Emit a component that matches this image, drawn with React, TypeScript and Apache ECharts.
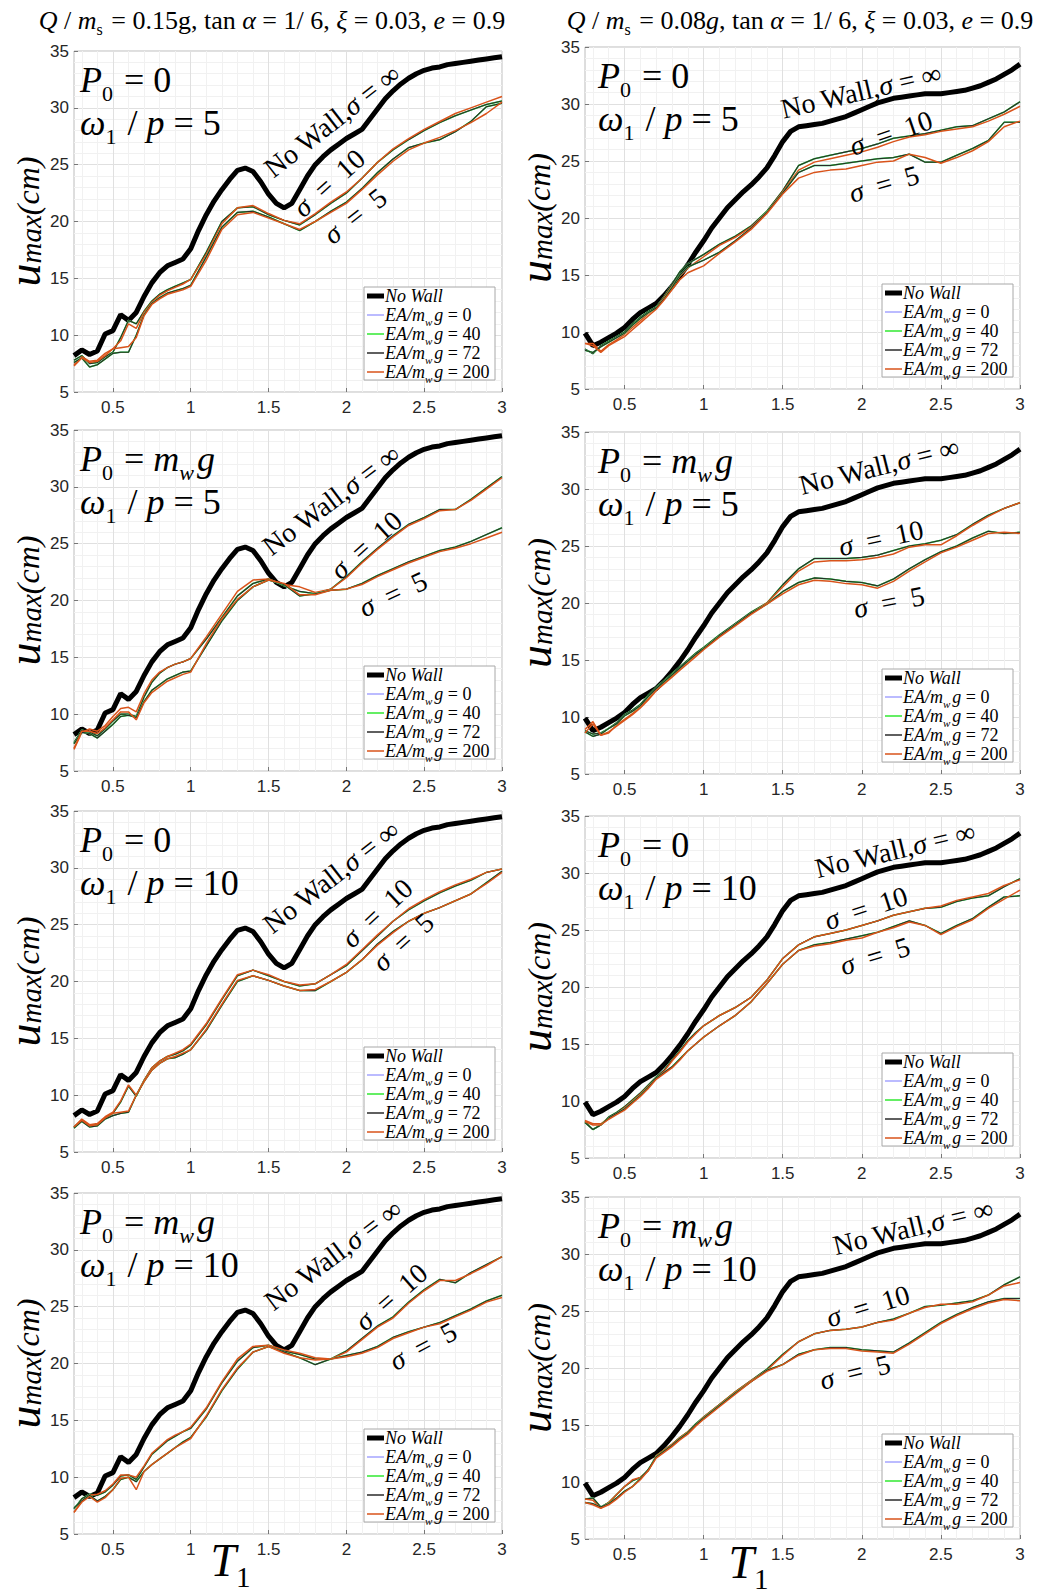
import React, { useEffect, useRef } from 'react';
import * as echarts from 'echarts';

// ---------- data ----------
const T_FINE = [0.25, 0.3, 0.35, 0.4, 0.45, 0.5, 0.55, 0.6, 0.65, 0.7, 0.75, 0.8, 0.85, 0.9, 0.95, 1.0, 1.05, 1.1, 1.15, 1.2, 1.25, 1.3, 1.35, 1.4, 1.45, 1.5, 1.55, 1.6, 1.65, 1.7, 1.75, 1.8, 1.85, 1.9, 1.95, 2.0, 2.05, 2.1, 2.15, 2.2, 2.25, 2.3, 2.35, 2.4, 2.45, 2.5, 2.55, 2.6, 2.65, 2.7, 2.75, 2.8, 2.85, 2.9, 2.95, 3.0];
const T_THIN = [0.25, 0.3, 0.35, 0.4, 0.45, 0.5, 0.55, 0.6, 0.65, 0.7, 0.75, 0.8, 0.85, 0.9, 0.95, 1.0, 1.1, 1.2, 1.3, 1.4, 1.5, 1.6, 1.7, 1.8, 1.9, 2.0, 2.1, 2.2, 2.3, 2.4, 2.5, 2.6, 2.7, 2.8, 2.9, 3.0];

const NOWALL_LEFT = [8.2, 8.7, 8.3, 8.6, 10.1, 10.4, 11.8, 11.3, 12.0, 13.4, 14.6, 15.5, 16.1, 16.4, 16.7, 17.6, 19.2, 20.6, 21.8, 22.8, 23.7, 24.5, 24.7, 24.4, 23.5, 22.4, 21.6, 21.2, 21.6, 22.8, 24.0, 25.0, 25.7, 26.3, 26.8, 27.3, 27.7, 28.1, 29.0, 29.9, 30.8, 31.5, 32.1, 32.6, 33.0, 33.3, 33.5, 33.6, 33.8, 33.9, 34.0, 34.1, 34.2, 34.3, 34.4, 34.5];
const NOWALL_RIGHT = [9.9, 8.8, 9.1, 9.5, 9.9, 10.4, 11.1, 11.7, 12.1, 12.5, 13.2, 14.0, 14.9, 15.9, 17.0, 18.0, 19.1, 20.0, 20.9, 21.6, 22.3, 22.9, 23.6, 24.4, 25.5, 26.7, 27.6, 28.0, 28.1, 28.2, 28.3, 28.5, 28.7, 28.9, 29.2, 29.5, 29.8, 30.1, 30.3, 30.5, 30.6, 30.7, 30.8, 30.9, 30.9, 30.9, 31.0, 31.1, 31.2, 31.4, 31.6, 31.9, 32.2, 32.6, 33.0, 33.5];

// Left column (Q/ms = 0.15g)
const L1_S10 = [7.8, 8.2, 7.5, 7.6, 8.1, 8.5, 9.8, 11.3, 11.0, 12.1, 13.0, 13.6, 14.0, 14.3, 14.6, 14.9, 17.3, 20.0, 21.2, 21.3, 20.6, 20.1, 19.7, 20.6, 21.6, 22.5, 23.8, 25.2, 26.3, 27.2, 28.0, 28.7, 29.3, 29.8, 30.3, 30.6];
const L1_S10_200 = [7.4, 8.1, 7.7, 7.8, 8.4, 8.8, 9.5, 11.0, 10.6, 12.0, 12.9, 13.5, 13.9, 14.2, 14.5, 14.9, 17.1, 19.8, 21.2, 21.4, 20.7, 20.1, 19.8, 20.7, 21.7, 22.6, 23.8, 25.2, 26.4, 27.3, 28.1, 28.8, 29.5, 30.0, 30.5, 31.0];
const L1_S5 = [7.6, 8.0, 7.2, 7.4, 7.9, 8.4, 8.5, 8.5, 10.0, 11.8, 12.8, 13.3, 13.7, 13.9, 14.1, 14.4, 16.9, 19.5, 20.8, 20.9, 20.4, 19.8, 19.2, 20.0, 20.9, 21.7, 22.9, 24.3, 25.5, 26.5, 26.9, 27.2, 27.9, 28.8, 30.1, 30.4];
const L1_S5_200 = [7.3, 8.0, 7.6, 7.7, 8.2, 8.8, 8.9, 9.0, 9.8, 11.7, 12.7, 13.2, 13.6, 13.8, 14.0, 14.3, 16.6, 19.3, 20.6, 20.8, 20.3, 19.8, 19.3, 20.0, 20.8, 21.6, 22.8, 24.1, 25.3, 26.3, 26.9, 27.4, 28.0, 28.7, 29.5, 30.5];

const L2_S10 = [7.5, 8.6, 8.4, 8.1, 8.7, 9.4, 10.0, 10.0, 9.8, 11.5, 12.8, 13.6, 14.1, 14.4, 14.6, 14.9, 16.6, 18.5, 20.4, 21.5, 21.9, 21.3, 20.8, 20.6, 21.0, 22.1, 23.4, 24.6, 25.7, 26.7, 27.3, 28.0, 28.0, 28.9, 29.9, 30.9];
const L2_S10_200 = [6.9, 8.4, 8.7, 8.5, 9.0, 9.8, 10.5, 10.6, 10.2, 11.8, 13.0, 13.7, 14.1, 14.4, 14.6, 14.9, 16.8, 18.8, 20.8, 21.8, 21.9, 21.4, 21.2, 20.7, 21.0, 22.0, 23.3, 24.5, 25.6, 26.6, 27.2, 27.9, 28.0, 28.8, 29.8, 30.8];
const L2_S5 = [7.4, 8.4, 8.3, 7.9, 8.5, 9.1, 9.8, 9.9, 9.7, 11.1, 12.1, 12.6, 13.1, 13.4, 13.7, 13.8, 16.0, 18.2, 20.0, 21.2, 21.8, 21.4, 20.4, 20.6, 20.9, 21.0, 21.5, 22.2, 22.8, 23.4, 23.9, 24.4, 24.7, 25.2, 25.8, 26.4];
const L2_S5_200 = [7.0, 8.5, 8.5, 8.3, 8.8, 9.5, 10.2, 10.2, 9.5, 11.0, 11.9, 12.4, 12.9, 13.2, 13.5, 13.7, 16.2, 18.4, 20.1, 21.2, 21.8, 21.5, 20.5, 20.5, 20.9, 21.0, 21.4, 22.1, 22.7, 23.3, 23.8, 24.3, 24.6, 25.0, 25.5, 26.0];

const L3_S10 = [7.2, 7.8, 7.3, 7.4, 8.0, 8.4, 9.4, 10.8, 9.9, 11.3, 12.4, 13.0, 13.4, 13.6, 13.9, 14.4, 16.2, 18.4, 20.5, 21.0, 20.5, 20.0, 19.6, 19.8, 20.6, 21.4, 22.7, 24.0, 25.3, 26.3, 27.1, 27.8, 28.4, 28.9, 29.6, 29.9];
const L3_S10_200 = [7.2, 7.9, 7.4, 7.5, 8.1, 8.5, 9.5, 10.9, 10.0, 11.3, 12.4, 13.0, 13.4, 13.7, 14.0, 14.5, 16.3, 18.5, 20.6, 21.0, 20.6, 20.0, 19.7, 19.8, 20.6, 21.5, 22.8, 24.1, 25.3, 26.4, 27.2, 27.9, 28.5, 29.0, 29.6, 29.9];
const L3_S5 = [7.1, 7.7, 7.2, 7.3, 7.9, 8.2, 8.4, 8.5, 10.0, 11.2, 12.2, 12.8, 13.2, 13.3, 13.6, 14.0, 15.7, 17.9, 20.0, 20.5, 20.1, 19.6, 19.2, 19.2, 20.0, 20.8, 21.9, 23.3, 24.4, 25.3, 26.0, 26.5, 27.1, 27.7, 28.7, 29.7];
const L3_S5_200 = [7.2, 7.8, 7.3, 7.4, 8.0, 8.4, 8.5, 8.6, 10.0, 11.2, 12.2, 12.8, 13.2, 13.4, 13.7, 14.0, 15.8, 18.0, 20.1, 20.5, 20.1, 19.6, 19.2, 19.3, 20.0, 20.8, 21.9, 23.2, 24.3, 25.3, 26.0, 26.5, 27.1, 27.7, 28.6, 29.6];

const L4_S10 = [7.2, 8.1, 8.5, 8.4, 8.7, 9.3, 10.1, 10.2, 9.8, 10.9, 12.0, 12.6, 13.2, 13.6, 14.0, 14.3, 16.0, 18.3, 20.2, 21.4, 21.6, 21.1, 20.8, 20.4, 20.4, 21.1, 22.2, 23.3, 24.1, 25.4, 26.5, 27.4, 27.1, 28.0, 28.7, 29.4];
const L4_S10_200 = [6.9, 7.9, 8.4, 8.5, 8.8, 9.4, 10.2, 10.2, 10.0, 11.0, 12.1, 12.7, 13.3, 13.7, 14.0, 14.4, 16.1, 18.4, 20.4, 21.5, 21.6, 21.2, 20.9, 20.5, 20.4, 21.0, 22.1, 23.2, 24.0, 25.3, 26.4, 27.3, 27.3, 27.9, 28.6, 29.4];
const L4_S5 = [7.3, 7.9, 8.4, 7.9, 8.3, 8.9, 9.8, 10.0, 9.6, 10.5, 11.1, 11.6, 12.1, 12.6, 13.1, 13.5, 15.3, 17.6, 19.5, 21.0, 21.5, 21.0, 20.5, 19.9, 20.4, 20.7, 21.0, 21.5, 22.3, 22.8, 23.2, 23.6, 24.2, 24.8, 25.5, 26.0];
const L4_S5_200 = [6.9, 7.8, 8.3, 7.8, 8.2, 8.9, 9.9, 10.0, 8.9, 10.5, 11.1, 11.6, 12.1, 12.6, 13.0, 13.4, 15.4, 17.7, 19.6, 21.0, 21.5, 20.9, 20.5, 20.3, 20.4, 20.6, 20.9, 21.4, 22.2, 22.7, 23.2, 23.5, 24.1, 24.7, 25.4, 25.8];

// Right column (Q/ms = 0.08g)
const R1_S10 = [8.5, 8.1, 8.8, 9.2, 9.6, 10.0, 10.7, 11.3, 11.8, 12.2, 13.1, 14.2, 15.3, 16.0, 16.4, 16.8, 17.7, 18.4, 19.3, 20.6, 22.4, 24.6, 25.2, 25.5, 25.8, 26.1, 26.5, 27.0, 27.2, 27.4, 27.7, 28.0, 28.1, 28.7, 29.3, 30.2];
const R1_S10_200 = [9.0, 9.0, 8.3, 8.9, 9.3, 9.8, 10.4, 11.0, 11.6, 12.1, 13.0, 14.0, 14.9, 15.6, 16.1, 16.6, 17.6, 18.3, 19.2, 20.5, 22.3, 24.2, 24.9, 25.2, 25.5, 25.8, 26.2, 26.7, 27.1, 27.3, 27.6, 27.8, 28.0, 28.5, 29.1, 29.8];
const R1_S5 = [8.4, 8.2, 8.7, 9.1, 9.5, 9.9, 10.6, 11.2, 11.7, 12.1, 12.9, 13.9, 15.0, 15.7, 16.0, 16.3, 17.0, 18.0, 19.1, 20.5, 22.2, 24.0, 24.6, 24.6, 24.8, 25.0, 25.2, 25.3, 25.6, 24.9, 24.9, 25.5, 26.1, 26.8, 28.4, 28.4];
const R1_S5_200 = [9.0, 8.8, 8.2, 8.8, 9.2, 9.6, 10.2, 10.8, 11.4, 12.0, 12.8, 13.7, 14.6, 15.2, 15.5, 15.8, 16.9, 17.9, 19.0, 20.4, 22.1, 23.5, 24.0, 24.2, 24.3, 24.6, 24.9, 25.0, 25.6, 25.3, 24.8, 25.3, 25.9, 26.7, 28.0, 28.5];

const R2_S10 = [8.8, 8.5, 8.6, 9.0, 9.5, 10.2, 10.6, 11.1, 11.9, 12.6, 13.2, 13.8, 14.4, 15.0, 15.6, 16.1, 17.2, 18.2, 19.2, 20.0, 21.6, 23.0, 23.9, 23.9, 23.9, 24.0, 24.2, 24.6, 25.0, 25.2, 25.5, 26.0, 26.9, 27.7, 28.3, 28.8];
const R2_S10_200 = [8.9, 9.6, 8.4, 8.6, 9.3, 9.8, 10.3, 10.9, 11.6, 12.4, 13.0, 13.6, 14.2, 14.9, 15.4, 16.0, 17.1, 18.1, 19.1, 20.0, 21.4, 22.8, 23.6, 23.7, 23.7, 23.8, 24.0, 24.3, 24.9, 25.1, 25.1, 25.9, 26.8, 27.6, 28.3, 28.8];
const R2_S5 = [8.7, 8.3, 8.5, 9.0, 9.4, 10.1, 10.5, 11.0, 11.8, 12.5, 13.1, 13.7, 14.3, 14.9, 15.5, 16.0, 17.1, 18.1, 19.1, 19.9, 21.0, 21.8, 22.2, 22.1, 21.9, 21.8, 21.5, 22.1, 23.0, 23.8, 24.5, 25.0, 25.7, 26.3, 26.1, 26.2];
const R2_S5_200 = [8.6, 9.4, 8.4, 8.7, 9.2, 9.7, 10.2, 10.8, 11.5, 12.3, 12.9, 13.5, 14.1, 14.7, 15.3, 15.9, 17.0, 18.0, 19.0, 19.9, 20.8, 21.6, 22.0, 21.9, 21.7, 21.6, 21.3, 21.9, 22.8, 23.6, 24.4, 24.9, 25.5, 26.1, 26.2, 26.1];

const R3_S10 = [8.2, 7.5, 7.9, 8.6, 9.0, 9.5, 10.1, 10.7, 11.4, 12.1, 12.7, 13.6, 14.4, 15.3, 16.0, 16.6, 17.5, 18.2, 19.1, 20.6, 22.5, 23.7, 24.4, 24.7, 25.0, 25.4, 25.8, 26.3, 26.6, 26.9, 27.0, 27.5, 27.8, 28.0, 28.8, 29.5];
const R3_S10_200 = [8.3, 8.0, 8.0, 8.5, 8.9, 9.4, 10.0, 10.6, 11.3, 12.0, 12.6, 13.5, 14.3, 15.2, 15.9, 16.6, 17.5, 18.2, 19.1, 20.6, 22.5, 23.7, 24.4, 24.7, 25.0, 25.4, 25.8, 26.3, 26.6, 26.9, 27.1, 27.6, 27.9, 28.2, 28.9, 29.4];
const R3_S5 = [8.1, 7.5, 7.9, 8.5, 8.9, 9.3, 9.9, 10.5, 11.2, 12.0, 12.5, 13.0, 13.7, 14.4, 15.0, 15.6, 16.6, 17.5, 18.7, 20.3, 22.0, 23.2, 23.7, 23.9, 24.2, 24.5, 24.8, 25.3, 25.8, 25.4, 24.7, 25.4, 26.0, 27.0, 27.9, 28.0];
const R3_S5_200 = [8.2, 7.9, 7.9, 8.4, 8.8, 9.2, 9.8, 10.4, 11.1, 11.9, 12.4, 12.9, 13.6, 14.4, 15.0, 15.6, 16.6, 17.5, 18.7, 20.3, 22.0, 23.2, 23.6, 23.8, 24.1, 24.3, 24.8, 25.2, 25.7, 25.4, 24.6, 25.3, 25.9, 26.9, 27.7, 28.5];

const R4_S10 = [8.5, 8.6, 7.8, 8.2, 8.9, 9.6, 10.1, 10.4, 11.0, 12.3, 12.8, 13.3, 13.9, 14.4, 15.1, 15.7, 16.8, 17.9, 18.9, 19.9, 21.2, 22.3, 23.0, 23.3, 23.4, 23.6, 24.0, 24.3, 24.8, 25.4, 25.5, 25.7, 25.9, 26.4, 27.3, 28.0];
const R4_S10_200 = [8.5, 8.4, 7.7, 8.2, 8.9, 9.6, 10.2, 10.4, 11.0, 12.3, 12.8, 13.3, 13.9, 14.4, 15.0, 15.7, 16.8, 17.9, 18.9, 19.8, 21.1, 22.3, 23.0, 23.3, 23.4, 23.6, 24.0, 24.2, 24.8, 25.3, 25.6, 25.6, 25.8, 26.4, 27.2, 27.5];
const R4_S5 = [8.2, 8.1, 7.8, 8.1, 8.6, 9.2, 9.6, 10.3, 11.1, 12.2, 12.7, 13.2, 13.8, 14.3, 15.0, 15.6, 16.7, 17.8, 18.8, 19.8, 20.3, 21.2, 21.6, 21.8, 21.8, 21.6, 21.5, 21.4, 22.2, 23.1, 24.0, 24.7, 25.3, 25.8, 26.1, 26.1];
const R4_S5_200 = [8.2, 8.0, 7.7, 8.0, 8.5, 9.1, 9.6, 10.2, 11.0, 12.1, 12.6, 13.1, 13.7, 14.2, 14.9, 15.5, 16.6, 17.7, 18.8, 19.7, 20.3, 21.1, 21.6, 21.7, 21.7, 21.5, 21.4, 21.3, 22.1, 23.0, 23.9, 24.6, 25.2, 25.7, 26.0, 25.9];

const X_MAJOR = [0.5, 1, 1.5, 2, 2.5, 3];
const X_MINOR = [0.3, 0.4, 0.6, 0.7, 0.8, 0.9, 1.1, 1.2, 1.3, 1.4, 1.6, 1.7, 1.8, 1.9, 2.1, 2.2, 2.3, 2.4, 2.6, 2.7, 2.8, 2.9];
const EA_VALUES = [0, 40, 72, 200];
const LEGEND_NOWALL = 'No Wall';
const P0_TEXT = ['{i|P}{s|0}{r| = 0}', '{i|P}{s|0}{r| = }{i|m}{si|w}{i|g}'];
const RATIO_VALUES = ['5', '10'];
const TITLE_LEFT = '{i|Q}{r| / }{i|m}{s|s}{r| = 0.15g, tan }{i|α}{r| = 1/ 6, }{i|ξ}{r| = 0.03, }{i|e}{r| = 0.9}';
const TITLE_RIGHT = '{i|Q}{r| / }{i|m}{s|s}{r| = 0.08}{i|g}{r|, tan }{i|α}{r| = 1/ 6, }{i|ξ}{r| = 0.03, }{i|e}{r| = 0.9}';

// ---------- style / layout ----------
const SERIF = "'Liberation Serif', 'Times New Roman', serif";
const SANS = "'Liberation Sans', Arial, sans-serif";
const C_BLUE = '#a4a4ff';
const C_GREEN = '#30e830';
const C_BLACK = '#2a2a2a';
const C_ORANGE = '#d9531a';

const COL_LEFT = [67, 585];
const GRID_W = 435;
const ROW_TOP = [[51, 430, 811, 1193], [47, 432, 816, 1197]];
const GRID_H = [341, 342];

// label placement per panel: [cx, cy, angleDeg] for NoWall, sigma10, sigma5
const LABEL_POS = [
  [[332, 121, 38], [329, 183, 42], [355, 216, 38]],
  [[331, 500, 37], [366, 545, 42], [393, 594, 25]],
  [[331, 877, 38], [377, 913, 43], [403, 942, 42]],
  [[333, 1255, 37], [391, 1297, 41], [423, 1346, 28]],
  [[861, 91, 13], [891, 133, 19], [884, 184, 16]],
  [[879, 466, 14], [881, 538, 12], [889, 602, 11]],
  [[895, 850, 13.5], [866, 908, 18], [875, 956, 17]],
  [[913, 1227, 13.5], [868, 1306, 17], [855, 1372, 14]],
];

const PANELS = [
  { col: 0, row: 0, p0: 0, ratio: 0, noWall: NOWALL_LEFT, s10: L1_S10, s10b: L1_S10_200, s5: L1_S5, s5b: L1_S5_200 },
  { col: 0, row: 1, p0: 1, ratio: 0, noWall: NOWALL_LEFT, s10: L2_S10, s10b: L2_S10_200, s5: L2_S5, s5b: L2_S5_200 },
  { col: 0, row: 2, p0: 0, ratio: 1, noWall: NOWALL_LEFT, s10: L3_S10, s10b: L3_S10_200, s5: L3_S5, s5b: L3_S5_200 },
  { col: 0, row: 3, p0: 1, ratio: 1, noWall: NOWALL_LEFT, s10: L4_S10, s10b: L4_S10_200, s5: L4_S5, s5b: L4_S5_200 },
  { col: 1, row: 0, p0: 0, ratio: 0, noWall: NOWALL_RIGHT, s10: R1_S10, s10b: R1_S10_200, s5: R1_S5, s5b: R1_S5_200 },
  { col: 1, row: 1, p0: 1, ratio: 0, noWall: NOWALL_RIGHT, s10: R2_S10, s10b: R2_S10_200, s5: R2_S5, s5b: R2_S5_200 },
  { col: 1, row: 2, p0: 0, ratio: 1, noWall: NOWALL_RIGHT, s10: R3_S10, s10b: R3_S10_200, s5: R3_S5, s5b: R3_S5_200 },
  { col: 1, row: 3, p0: 1, ratio: 1, noWall: NOWALL_RIGHT, s10: R4_S10, s10b: R4_S10_200, s5: R4_S5, s5b: R4_S5_200 },
];

function richSet(F: number) {
  const sub = Math.round(F * 0.62);
  const pad = Math.round(F * 0.72);
  const lh = Math.round(F * 0.9);
  const slh = Math.max(6, Math.round(F * 0.28));
  const gap = Math.max(1, Math.round(F * 0.06));
  return {
    i: { fontFamily: SERIF, fontStyle: 'italic', fontSize: F, fill: '#000', lineHeight: lh },
    r: { fontFamily: SERIF, fontSize: F, fill: '#000', lineHeight: lh },
    s: { fontFamily: SERIF, fontSize: sub, fill: '#000', lineHeight: slh, padding: [pad, gap, 0, 0] },
    si: { fontFamily: SERIF, fontStyle: 'italic', fontSize: sub, fill: '#000', lineHeight: slh, padding: [pad, gap + 1, 0, 0] },
  };
}

function txt(x: number, y: number, text: string, F: number, align = 'left', rotDeg = 0) {
  return {
    type: 'text',
    x,
    y,
    rotation: (rotDeg * Math.PI) / 180,
    z: 100,
    silent: true,
    style: {
      text,
      rich: richSet(F),
      font: `${F}px ${SERIF}`,
      fill: '#000',
      align,
      verticalAlign: 'middle',
    },
  };
}

function pairs(xs: number[], ys: number[]) {
  return xs.map((x, i) => [x, ys[i]]);
}

function buildOption() {
  const grids: any[] = [];
  const xAxes: any[] = [];
  const yAxes: any[] = [];
  const series: any[] = [];
  const elements: any[] = [];

  PANELS.forEach((p, gi) => {
    const left = COL_LEFT[p.col];
    const top = ROW_TOP[p.col][p.row];
    const h = GRID_H[p.col];
    grids.push({ left, top, width: GRID_W, height: h, show: true, borderColor: '#bcbcbc', borderWidth: 1, backgroundColor: '#fff', containLabel: false });

    xAxes.push({
      type: 'value', gridIndex: gi, min: 0.25, max: 3, interval: 0.05,
      axisLine: { show: false },
      axisTick: { show: true, inside: true, length: 4, customValues: X_MAJOR, lineStyle: { color: '#777' } },
      axisLabel: { customValues: X_MAJOR, fontSize: 17, color: '#262626', fontFamily: SANS, margin: 7, formatter: (v: number) => String(v) },
      splitLine: { show: true, lineStyle: { color: '#e0e0e0', width: 1 } },
      z: 1,
    });
    xAxes.push({
      type: 'value', gridIndex: gi, min: 0.25, max: 3, interval: 0.05, position: 'bottom',
      axisLine: { show: false },
      axisTick: { show: false, customValues: X_MINOR },
      axisLabel: { show: false },
      splitLine: { show: true, lineStyle: { color: '#f1f1f1', width: 1 } },
      z: 0,
    });
    yAxes.push({
      type: 'value', gridIndex: gi, min: 5, max: 35, interval: 5,
      axisLine: { show: false },
      axisTick: { show: true, inside: true, length: 4, lineStyle: { color: '#777' } },
      axisLabel: { fontSize: 17, color: '#262626', fontFamily: SANS, margin: 5 },
      splitLine: { show: true, lineStyle: { color: '#e0e0e0', width: 1 } },
      minorTick: { show: false, splitNumber: 5 },
      minorSplitLine: { show: true, lineStyle: { color: '#f1f1f1', width: 1 } },
      name: '{u|u}{m|max}{c|(cm)}',
      nameLocation: 'middle',
      nameRotate: 90,
      nameGap: 30,
      nameMoveOverlap: false,
      nameTextStyle: {
        rich: {
          u: { fontFamily: SERIF, fontStyle: 'italic', fontSize: 46, color: '#000', lineHeight: 40 },
          m: { fontFamily: SERIF, fontStyle: 'italic', fontSize: 29, color: '#000', lineHeight: 20, padding: [14, 0, 0, 0] },
          c: { fontFamily: SERIF, fontStyle: 'italic', fontSize: 32, color: '#000', lineHeight: 30, padding: [8, 0, 0, 0] },
        },
      },
    });

    const xi = gi * 2;
    const mk = (name: string, xs: number[], ys: number[], color: string, width: number) => ({
      type: 'line', name, xAxisIndex: xi, yAxisIndex: gi, data: pairs(xs, ys),
      showSymbol: false, symbol: 'none', silent: true,
      lineStyle: { color, width }, itemStyle: { color },
    });
    series.push(mk(LEGEND_NOWALL, T_FINE, p.noWall, '#000', 5));
    [[p.s10, p.s10b], [p.s5, p.s5b]].forEach(([base, b200]) => {
      series.push(mk('EA0', T_THIN, base, C_BLUE, 1.4));
      series.push(mk('EA40', T_THIN, base, C_GREEN, 1.5));
      series.push(mk('EA72', T_THIN, base, C_BLACK, 1.1));
      series.push(mk('EA200', T_THIN, b200, C_ORANGE, 1.5));
    });

    // annotations
    const ax = left + 13;
    elements.push(txt(ax, top + 29, P0_TEXT[p.p0], 36));
    elements.push(txt(ax, top + 72, `{i|ω}{s|1}{r| / }{i|p}{r| = ${RATIO_VALUES[p.ratio]}}`, 36));

    const lp = LABEL_POS[gi];
    elements.push(txt(lp[0][0], lp[0][1], '{r|No Wall,}{i|σ}{r| = ∞}', 28, 'center', lp[0][2]));
    elements.push(txt(lp[1][0], lp[1][1], '{i|σ}{r|  =  10}', 28, 'center', lp[1][2]));
    elements.push(txt(lp[2][0], lp[2][1], '{i|σ}{r|  =  5}', 28, 'center', lp[2][2]));

    // legend box
    const bx = left + GRID_W - 138;
    const by = top + h - 105;
    elements.push({ type: 'rect', z: 99, silent: true, shape: { x: bx, y: by, width: 131, height: 93 }, style: { fill: '#fff', stroke: '#a8a8a8', lineWidth: 1 } });
    const items = [
      { label: `{i|${LEGEND_NOWALL}}`, color: '#000', width: 5 },
      ...EA_VALUES.map((v, k) => ({ label: `{i|EA/m}{si|w}{i|g}{r| = ${v}}`, color: [C_BLUE, C_GREEN, C_BLACK, C_ORANGE][k], width: 1.5 })),
    ];
    items.forEach((it, k) => {
      const cy = by + 9 + k * 19;
      elements.push({ type: 'line', z: 100, silent: true, shape: { x1: bx + 3, y1: cy, x2: bx + 20, y2: cy }, style: { stroke: it.color, lineWidth: it.width } });
      elements.push(txt(bx + 21, cy, it.label, 18));
    });
  });

  elements.push(txt(272, 20, TITLE_LEFT, 26, 'center'));
  elements.push(txt(800, 20, TITLE_RIGHT, 26, 'center'));
  elements.push(txt(232, 1560, '{i|T}{s|1}', 46, 'center'));
  elements.push(txt(750, 1562, '{i|T}{s|1}', 46, 'center'));

  return {
    animation: false,
    backgroundColor: '#fff',
    grid: grids,
    xAxis: xAxes,
    yAxis: yAxes,
    series,
    graphic: elements,
  };
}

export default function App() {
  const ref = useRef<HTMLDivElement>(null);
  useEffect(() => {
    if (!ref.current) return;
    const chart = echarts.init(ref.current, undefined, { renderer: 'svg' });
    chart.setOption(buildOption() as any);
    return () => chart.dispose();
  }, []);
  return <div ref={ref} style={{ position: 'absolute', left: 0, top: 0, width: 1045, height: 1596, background: '#fff' }} />;
}
